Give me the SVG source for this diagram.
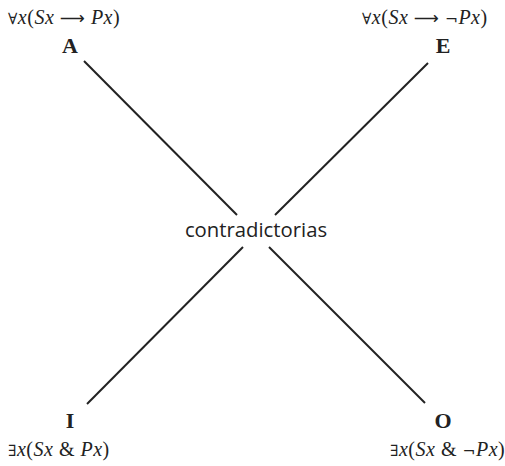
<svg xmlns="http://www.w3.org/2000/svg" width="505" height="466" viewBox="0 0 505 466">
<style>
.f{font-family:"Liberation Serif",serif;font-size:20px;letter-spacing:0.5px;fill:#222}
.i{font-family:"Liberation Serif",serif;font-style:italic}
.s{font-family:"DejaVu Serif",serif;font-size:15.5px}
.a{font-family:"DejaVu Sans",sans-serif;font-size:17.5px}
.l{font-family:"Liberation Serif",serif;font-size:22px;font-weight:bold;fill:#222;text-anchor:middle}
.c{font-family:"Open Sans",sans-serif;font-size:20.3px;fill:#222;text-anchor:middle}
.ln{stroke:#222;stroke-width:2;fill:none}
</style>
<rect width="505" height="466" fill="#fff"/>
<g id="connectors">
<line class="ln" x1="84" y1="61" x2="237" y2="215"/>
<line class="ln" x1="428" y1="63" x2="275" y2="215"/>
<line class="ln" x1="243" y1="247" x2="87" y2="404"/>
<line class="ln" x1="269" y1="247" x2="425" y2="403"/>
</g>
<g id="A">
<text class="f" x="8" y="24"><tspan class="s">∀</tspan><tspan class="i">x</tspan>(<tspan class="i">Sx</tspan> <tspan class="a">⟶</tspan> <tspan class="i">Px</tspan>)</text>
<text class="l" x="70" y="53">A</text>
</g>
<g id="E">
<text class="f" x="362" y="24"><tspan class="s">∀</tspan><tspan class="i">x</tspan>(<tspan class="i">Sx</tspan> <tspan class="a">⟶</tspan> <tspan class="s">¬</tspan><tspan class="i">Px</tspan>)</text>
<text class="l" x="443" y="53">E</text>
</g>
<g id="I">
<text class="l" x="70" y="428">I</text>
<text class="f" x="8" y="456"><tspan class="s">∃</tspan><tspan class="i">x</tspan>(<tspan class="i">Sx</tspan> &amp; <tspan class="i">Px</tspan>)</text>
</g>
<g id="O">
<text class="l" x="443" y="428">O</text>
<text class="f" x="390" y="456"><tspan class="s">∃</tspan><tspan class="i">x</tspan>(<tspan class="i">Sx</tspan> &amp; <tspan class="s">¬</tspan><tspan class="i">Px</tspan>)</text>
</g>
<g id="center">
<text class="c" x="256" y="237">contradictorias</text>
</g>
</svg>
